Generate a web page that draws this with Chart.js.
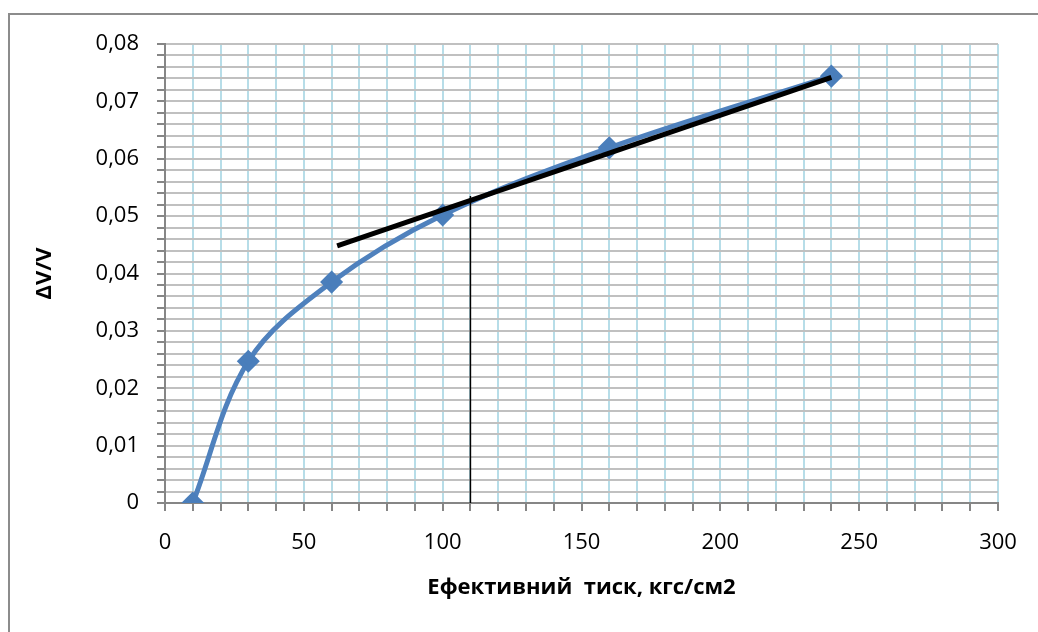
<!DOCTYPE html>
<html>
<head>
<meta charset="utf-8">
<script src="https://cdn.jsdelivr.net/npm/chart.js@4/dist/chart.umd.min.js"></script>
<style>
    body { margin: 0; background: #ffffff; }
    #wrap { position: relative; width: 1038px; height: 632px; overflow: hidden; }
    #frame { position: absolute; left: 8px; top: 13px; width: 1100px; height: 700px; border: 2px solid #8c8c8c; }
    #chart { position: absolute; left: 0; top: 0; }
</style>
</head>
<body>
<div id="wrap">
    <div id="frame"></div>
    <canvas id="chart" width="1038" height="632"></canvas>
</div>
<script>
// Дані: ефективний тиск і ΔV/V
const pressure = [10, 30, 60, 100, 160, 240];
const dvv = [0, 0.0247, 0.0385, 0.0502, 0.0619, 0.0744];

// дотична до кривої
const tangentX = [62, 240];
const tangentY = [0.0448, 0.0742];

// вертикальна позначка
const markX = [110, 110];
const markY = [0, 0.0535];

const xMin = 0, xMax = 300, xStep = 10, xLabelEvery = 50;
const yMin = 0, yMax = 0.08, yStep = 0.002, yLabelEvery = 0.01;

const xTitle = "Ефективний  тиск, кгс/см2";
const yTitle = "ΔV/V";

function toPoints(xs, ys) {
    return xs.map((x, i) => ({ x: x, y: ys[i] }));
}

const axisGray = "#868686";
const font = "'Open Sans', 'DejaVu Sans', sans-serif";

new Chart(document.getElementById("chart").getContext("2d"), {
    type: "scatter",
    data: {
        datasets: [
            {
                data: toPoints(tangentX, tangentY),
                showLine: true,
                borderColor: "#000000",
                borderWidth: 5,
                pointRadius: 0,
                order: 0
            },
            {
                data: toPoints(markX, markY),
                showLine: true,
                borderColor: "#000000",
                borderWidth: 1.5,
                pointRadius: 0,
                order: 1
            },
            {
                data: toPoints(pressure, dvv),
                showLine: true,
                borderColor: "#4f81bd",
                borderWidth: 5,
                tension: 0.35,
                pointStyle: "rectRot",
                pointRadius: 8,
                pointBackgroundColor: "#4a7ebb",
                pointBorderColor: "#4a7ebb",
                order: 2
            }
        ]
    },
    options: {
        responsive: false,
        animation: false,
        layout: { padding: { left: 0, right: 40, top: 44, bottom: 0 } },
        plugins: {
            legend: { display: false },
            tooltip: { enabled: false }
        },
        scales: {
            x: {
                type: "linear",
                min: xMin,
                max: xMax,
                afterFit: function (scale) { scale.height = 129; },
                ticks: {
                    stepSize: xStep,
                    autoSkip: false,
                    maxRotation: 0,
                    padding: 19,
                    color: "#000000",
                    font: { family: font, size: 22 },
                    callback: function (v) {
                        return Math.round(v) % xLabelEvery === 0 ? String(Math.round(v)) : "";
                    }
                },
                grid: {
                    color: "#b7dde8",
                    lineWidth: 2,
                    tickColor: axisGray,
                    tickLength: 8
                },
                border: { color: axisGray, width: 2 },
                title: {
                    display: true,
                    text: xTitle,
                    color: "#000000",
                    font: { family: font, size: 22, weight: "bold" },
                    padding: { top: 0, bottom: 31 }
                }
            },
            y: {
                type: "linear",
                min: yMin,
                max: yMax,
                afterFit: function (scale) { scale.width = 165; },
                ticks: {
                    stepSize: yStep,
                    autoSkip: false,
                    padding: 18,
                    color: "#000000",
                    font: { family: font, size: 22 },
                    callback: function (v) {
                        const k = Math.round(v / yStep);
                        const per = Math.round(yLabelEvery / yStep);
                        if (k % per !== 0) return "";
                        if (k === 0) return "0";
                        return (k * yStep).toFixed(2).replace(".", ",");
                    }
                },
                grid: {
                    color: "#c0c0c0",
                    lineWidth: 2,
                    tickColor: axisGray,
                    tickLength: 8
                },
                border: { color: axisGray, width: 2 },
                title: {
                    display: true,
                    text: yTitle,
                    color: "#000000",
                    font: { family: font, size: 22, weight: "bold" },
                    padding: { top: 32, bottom: 0 }
                }
            }
        }
    }
});
</script>
</body>
</html>
